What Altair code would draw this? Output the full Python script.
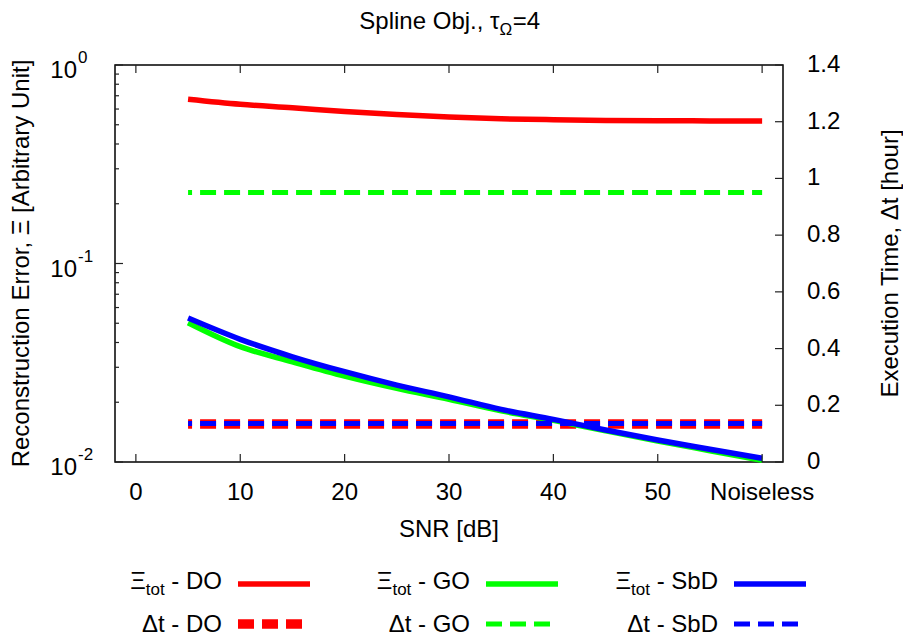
import altair as alt
import pandas as pd

FONT = "Liberation Sans"
FS = 24
W, H = 668, 397

# ---------------- data ----------------
snr = [5, 10, 15, 20, 25, 30, 35, 40, 45, 50, 55, 60]
xi_do = [0.672, 0.634, 0.609, 0.583, 0.563, 0.547, 0.536, 0.530, 0.526, 0.524, 0.523, 0.522]
xi_go = [0.0503, 0.0381, 0.0320, 0.0271, 0.0235, 0.0207, 0.0181, 0.0162, 0.01435, 0.01275, 0.0114, 0.0102]
xi_sbd = [0.0531, 0.0415, 0.0339, 0.0285, 0.0244, 0.0213, 0.0184, 0.0164, 0.0145, 0.0129, 0.0116, 0.01044]
dt_do = [0.134, 0.134, 0.134, 0.134, 0.134, 0.134, 0.134, 0.134, 0.134, 0.134, 0.134, 0.134]
dt_go = [0.95, 0.95, 0.95, 0.95, 0.95, 0.95, 0.95, 0.95, 0.95, 0.95, 0.95, 0.95]
dt_sbd = [0.136, 0.136, 0.136, 0.136, 0.136, 0.136, 0.136, 0.136, 0.136, 0.136, 0.136, 0.136]

x_ticks = [0, 10, 20, 30, 40, 50, 60]
x_tick_labels = ["0", "10", "20", "30", "40", "50", "Noiseless"]
yl_ticks = [1, 0.1, 0.01]
yl_exp = ["0", "-1", "-2"]
yl_minor = [0.02, 0.03, 0.04, 0.05, 0.06, 0.07, 0.08, 0.09,
            0.2, 0.3, 0.4, 0.5, 0.6, 0.7, 0.8, 0.9]
yr_ticks = [0, 0.2, 0.4, 0.6, 0.8, 1.0, 1.2, 1.4]
yr_labels = ["0", "0.2", "0.4", "0.6", "0.8", "1", "1.2", "1.4"]

title_parts = ["Spline Obj., τ", "Ω", "=4"]
x_title = "SNR [dB]"
yl_title = "Reconstruction Error, Ξ [Arbitrary Unit]"
yr_title = "Execution Time, Δt [hour]"
legend_methods = ["DO", "GO", "SbD"]
colors = ["#ff0000", "#00ff00", "#0000ff"]

# ---------------- scales ----------------
xs = alt.Scale(domain=[-2, 62], nice=False, zero=False)
ysl = alt.Scale(type="log", domain=[0.01, 1], nice=False)
ysr = alt.Scale(domain=[0, 1.4], nice=False, zero=False)


def series(vals, color, width, scale, dash=None):
    df = pd.DataFrame({"snr": snr, "v": vals})
    kw = dict(color=color, strokeWidth=width, clip=False)
    if dash is not None:
        kw.update(strokeDash=dash, strokeDashOffset=12)
    else:
        kw.update(interpolate="monotone")
    return alt.Chart(df).mark_line(**kw).encode(
        x=alt.X("snr:Q", scale=xs, axis=None),
        y=alt.Y("v:Q", scale=scale, axis=None),
    )


def txt(s, x, y, size=FS, align="left", baseline="alphabetic", angle=0):
    return alt.Chart(pd.DataFrame({"t": [s]})).mark_text(
        font=FONT, fontSize=size, align=align, baseline=baseline, angle=angle, color="black"
    ).encode(x=alt.value(x), y=alt.value(y), text="t:N")


def hrule(x1, x2, y, color, width, dash=None):
    kw = dict(color=color, strokeWidth=width)
    if dash is not None:
        kw.update(strokeDash=dash)
    return alt.Chart(pd.DataFrame({"a": [0]})).mark_rule(**kw).encode(
        x=alt.value(x1), x2=alt.value(x2), y=alt.value(y)
    )


layers = [
    series(xi_do, colors[0], 5.5, ysl),
    series(dt_do, colors[0], 9.5, ysr, dash=[16, 8]),
    series(xi_go, colors[1], 5.5, ysl),
    series(dt_go, colors[1], 5, ysr, dash=[16, 8]),
    series(xi_sbd, colors[2], 5.5, ysl),
    series(dt_sbd, colors[2], 5, ysr, dash=[16, 8]),
]

tick_col = "#222222"
# x ticks, bottom and top, inward
xt = pd.DataFrame({"snr": x_ticks, "lab": x_tick_labels})
layers.append(alt.Chart(xt).mark_rule(color=tick_col, strokeWidth=1.2).encode(
    x=alt.X("snr:Q", scale=xs, axis=None), y=alt.value(H), y2=alt.value(H - 8)))
layers.append(alt.Chart(xt).mark_rule(color=tick_col, strokeWidth=1.2).encode(
    x=alt.X("snr:Q", scale=xs, axis=None), y=alt.value(0), y2=alt.value(8)))
layers.append(alt.Chart(xt).mark_text(font=FONT, fontSize=FS, align="center", baseline="alphabetic").encode(
    x=alt.X("snr:Q", scale=xs, axis=None), y=alt.value(H + 38), text="lab:N"))

# left log ticks
yl = pd.DataFrame({"v": yl_ticks, "e": yl_exp})
layers.append(alt.Chart(yl).mark_rule(color=tick_col, strokeWidth=1.2).encode(
    y=alt.Y("v:Q", scale=ysl, axis=None), x=alt.value(0), x2=alt.value(8)))
layers.append(alt.Chart(pd.DataFrame({"v": yl_minor})).mark_rule(color=tick_col, strokeWidth=1.2).encode(
    y=alt.Y("v:Q", scale=ysl, axis=None), x=alt.value(0), x2=alt.value(4)))
layers.append(alt.Chart(yl.assign(b=["10", "10", "10"])).mark_text(
    font=FONT, fontSize=FS, align="right", baseline="middle", dy=6).encode(
    y=alt.Y("v:Q", scale=ysl, axis=None), x=alt.value(-38), text="b:N"))
layers.append(alt.Chart(yl).mark_text(
    font=FONT, fontSize=17, align="left", baseline="middle", dy=-7).encode(
    y=alt.Y("v:Q", scale=ysl, axis=None), x=alt.value(-37), text="e:N"))

# right ticks
yr = pd.DataFrame({"v": yr_ticks, "lab": yr_labels})
layers.append(alt.Chart(yr).mark_rule(color=tick_col, strokeWidth=1.2).encode(
    y=alt.Y("v:Q", scale=ysr, axis=None), x=alt.value(W - 8), x2=alt.value(W)))
layers.append(alt.Chart(yr).mark_text(
    font=FONT, fontSize=FS, align="left", baseline="middle").encode(
    y=alt.Y("v:Q", scale=ysr, axis=None), x=alt.value(W + 24), text="lab:N"))

# axis titles
layers.append(txt(x_title, W / 2, H + 75, align="center"))
layers.append(txt(yl_title, -93, H / 2, size=24, align="center", baseline="middle", angle=270))
layers.append(txt(yr_title, W + 108, H / 2, size=24, align="center", baseline="middle", angle=270))

# title with subscript
k = FS / 22
w1, w2, w3 = 129.8 * k, 13.1, 25.1 * k
start = W / 2 - (w1 + w2 + w3) / 2
xa = start + w1
layers.append(txt(title_parts[0], xa, -36, align="right"))
layers.append(txt(title_parts[1], xa, -30, size=17, align="left"))
layers.append(txt(title_parts[2], xa + w2, -36, align="left"))

# legend
em = {"-": 0.333, " ": 0.278, "D": 0.722, "O": 0.778, "G": 0.778, "S": 0.667, "b": 0.556}
col_end = [107, 355, 603]
line_x = [(123, 195), (371, 443), (619, 691)]
dt_w = [9.5, 5, 5]
for i, m in enumerate(legend_methods):
    xe = col_end[i]
    tail = "- " + m
    wt = sum(em[c] for c in tail) * FS
    x_tot = xe - wt - 0.278 * FS
    x_xi = x_tot - 1.112 * 17
    layers.append(txt(tail, xe, 524, align="right"))
    layers.append(txt("tot", x_tot, 530, size=17, align="right"))
    layers.append(txt("Ξ", x_xi, 524, align="right"))
    layers.append(txt("Δt - " + m, xe, 567, align="right"))
    layers.append(hrule(line_x[i][0], line_x[i][1], 519, colors[i], 5.5))
    layers.append(hrule(line_x[i][0], line_x[i][1], 559, colors[i], dt_w[i], dash=[16, 8]))

chart = alt.layer(*layers).resolve_scale(y="independent").properties(
    width=W, height=H,
    autosize=alt.AutoSizeParams(type="none"),
    padding={"left": 107, "top": 57, "right": 120, "bottom": 176},
    background="white",
).configure_view(stroke="black", strokeWidth=1.5)

chart.save("out.html", embed_options={"renderer": "svg", "actions": False})
